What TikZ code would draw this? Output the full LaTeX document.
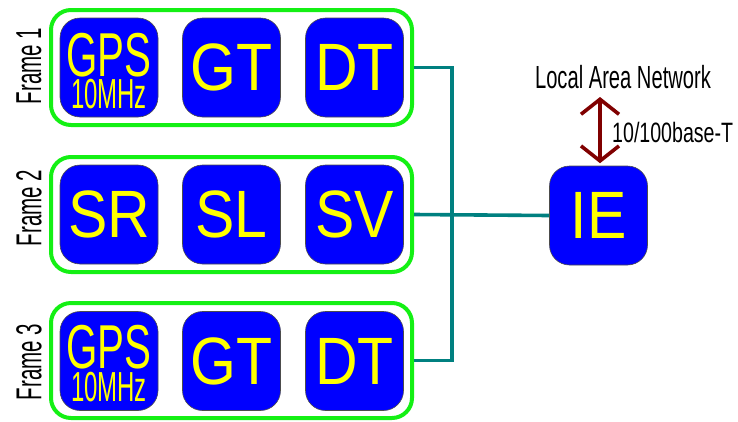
\documentclass[tikz,border=0pt]{standalone}
\usepackage{fontspec}
\setmainfont{Liberation Sans}
\newfontfamily\bigfont[FakeStretch=0.88]{Liberation Sans}
\newfontfamily\gpsfont[FakeStretch=0.65]{Liberation Sans}
\newfontfamily\mhzfont[FakeStretch=0.57]{Liberation Sans}
\newfontfamily\framefont[FakeStretch=0.57]{Liberation Sans}
\newfontfamily\lanfont[FakeStretch=0.63]{Liberation Sans}
\newfontfamily\ratefont[FakeStretch=0.70]{Liberation Sans}
\usetikzlibrary{arrows.meta}
\definecolor{boxblue}{RGB}{0,0,255}
\definecolor{txtyellow}{RGB}{255,255,0}
\definecolor{framegreen}{RGB}{20,240,20}
\definecolor{linkteal}{RGB}{0,128,128}
\definecolor{lanred}{RGB}{128,0,0}
\tikzset{
 unit/.style={draw=black!70, line width=0.6pt, fill=boxblue, rounded corners=20pt,
   minimum width=98pt, minimum height=99pt, inner sep=0pt, text=txtyellow,
   font=\bigfont\fontsize{67}{67}\selectfont},
 gpstext/.style={anchor=base, inner sep=0pt, text=txtyellow, font=\gpsfont\fontsize{62}{62}\selectfont},
 mhztext/.style={anchor=base, inner sep=0pt, text=txtyellow, font=\mhzfont\fontsize{42}{42}\selectfont},
 framebox/.style={draw=framegreen, line width=4pt, rounded corners=20pt,
   minimum width=361pt, minimum height=115pt, inner sep=0pt},
 framelabel/.style={rotate=90, inner sep=0pt, font=\framefont\fontsize{36}{36}\selectfont},
 link/.style={draw=linkteal, line width=3.6pt},
 lanlink/.style={draw=lanred, line width=3.6pt,
   {Straight Barb[length=15pt,width=38pt]}-{Straight Barb[length=15pt,width=38pt]}},
}
\begin{document}
\begin{tikzpicture}[x=1pt,y=-1pt]
\useasboundingbox (0,0) rectangle (738,421);
% frames
\node[framebox] (f1) at (231.5,67.5) {};
\node[framebox] (f2) at (231.5,214.5) {};
\node[framebox] (f3) at (231.5,360.5) {};
% frame labels
\node[framelabel] (fl1) at (29,66) {Frame 1};
\node[framelabel] (fl2) at (29,208) {Frame 2};
\node[framelabel] (fl3) at (29,362) {Frame 3};
% frame 1
\node[unit] (gps1) at (109,67.5) {};
\node[gpstext] (gps1a) at (109,76) {GPS};
\node[mhztext] (gps1b) at (109,108.5) {10MHz};
\node[unit] (gt1) at (231.5,67.5) {GT};
\node[unit] (dt1) at (354.5,67.5) {DT};
% frame 2
\node[unit] (sr) at (109,214.5) {SR};
\node[unit] (sl) at (231.5,214.5) {SL};
\node[unit] (sv) at (354.5,214.5) {SV};
% frame 3
\node[unit] (gps3) at (109,361) {};
\node[gpstext] (gps3a) at (109,368) {GPS};
\node[mhztext] (gps3b) at (109,401.5) {10MHz};
\node[unit] (gt3) at (231.5,361) {GT};
\node[unit] (dt3) at (354.5,361) {DT};
% IE
\node[unit] (ie) at (598.5,215.5) {IE};
% connectors
\draw[link] (f1.east) -- ++(38,0) |- (f3.east);
\draw[link] (f2.east) -- (ie.west);
% LAN
\node[anchor=base, inner sep=0pt, font=\lanfont\fontsize{32}{32}\selectfont] (lan) at (623,88) {Local Area Network};
\node[anchor=base west, inner sep=0pt, font=\ratefont\fontsize{28}{28}\selectfont] (rate) at (612,142) {10/100base-T};
\coordinate (lanport) at (600,97);
\draw[lanlink, shorten >=2.5pt] (lanport) -- (lanport |- ie.north);
\end{tikzpicture}
\end{document}
